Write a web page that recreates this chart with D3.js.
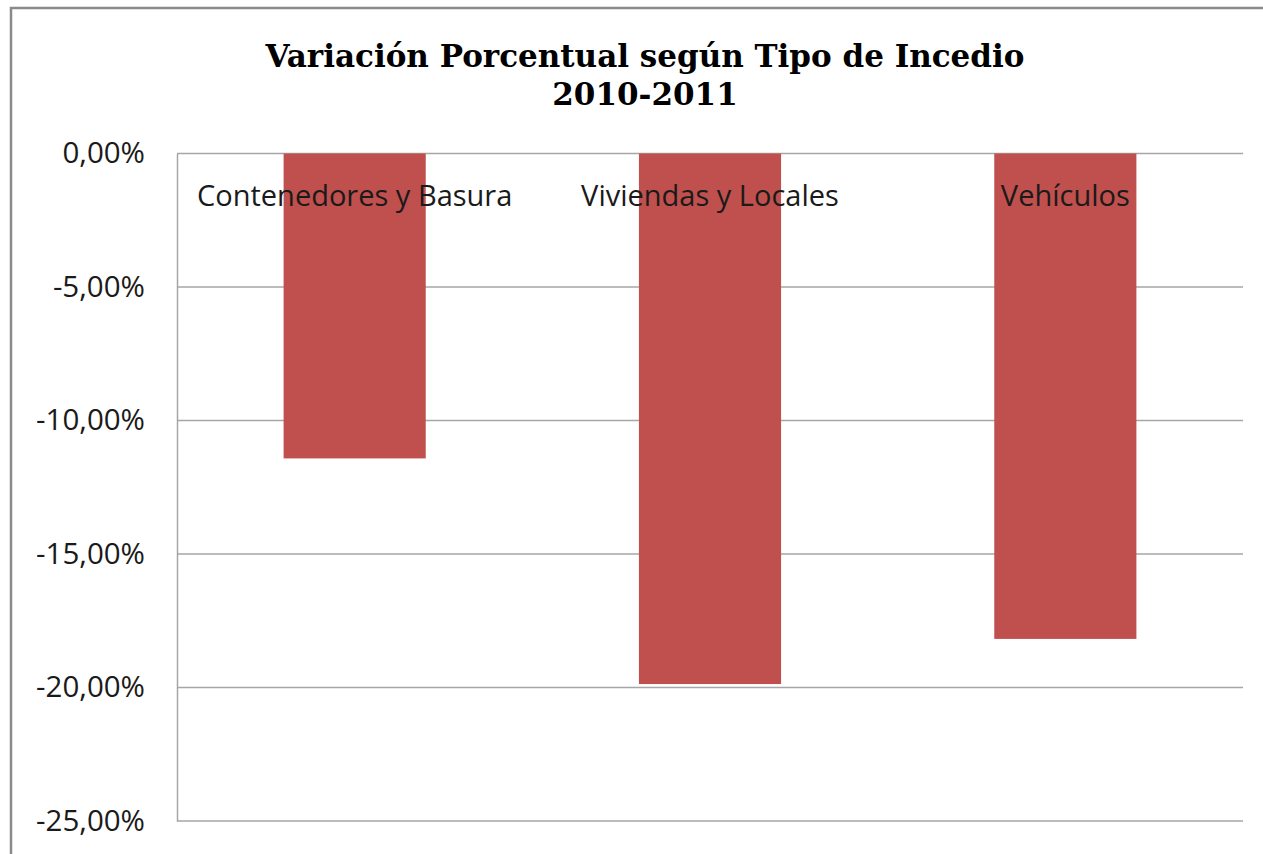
<!DOCTYPE html>
<html>
<head>
<meta charset="utf-8">
<script src="https://cdn.jsdelivr.net/npm/d3@7"></script>
<style>
  body { margin: 0; background: #fff; }
</style>
</head>
<body>
<div id="chart"></div>
<script>
const SVG_WIDTH = 1263;
const SVG_HEIGHT = 854;
const PLOT = { left: 177, right: 1243, top: 153.5, bottom: 821 };

const titleLines = ["Variación Porcentual según Tipo de Incedio", "2010-2011"];
const categories = ["Contenedores y Basura", "Viviendas y Locales", "Vehículos"];
const variation = [-0.1142, -0.1987, -0.1818];
const yTicks = [0, -0.05, -0.10, -0.15, -0.20, -0.25];

const esLocale = d3.formatLocale({
    decimal: ",",
    thousands: ".",
    grouping: [3],
    currency: ["", " €"],
    minus: "-"
});
const formatPct = esLocale.format(".2%");

const data = categories.map((c, i) => ({ category: c, value: variation[i] }));

const getScales = () => {
    const x = d3.scaleBand()
        .domain(categories)
        .range([PLOT.left, PLOT.right])
        .paddingInner(0.6)
        .paddingOuter(0.3);

    const y = d3.scaleLinear()
        .domain([-0.25, 0])
        .range([PLOT.bottom, PLOT.top]);

    return { x, y };
};

const appendFrame = (svg) => {
    svg.append("rect")
        .attr("x", 11)
        .attr("y", 8)
        .attr("width", SVG_WIDTH + 20)
        .attr("height", SVG_HEIGHT + 20)
        .attr("fill", "none")
        .attr("stroke", "#8a8a8a")
        .attr("stroke-width", 2.5);
};

const appendTitle = (svg) => {
    const title = svg.append("text")
        .attr("text-anchor", "middle")
        .attr("font-family", "'DejaVu Serif', 'Liberation Serif', serif")
        .attr("font-weight", "bold")
        .attr("font-size", 31)
        .attr("fill", "#000");

    title.selectAll("tspan")
        .data(titleLines)
        .join("tspan")
        .attr("x", 645)
        .attr("y", (d, i) => 67 + i * 38)
        .text(d => d);
};

const appendAxes = (svg, scales) => {
    // gridlines
    svg.append("g")
        .selectAll("line")
        .data(yTicks)
        .join("line")
        .attr("x1", PLOT.left)
        .attr("x2", PLOT.right)
        .attr("y1", d => scales.y(d))
        .attr("y2", d => scales.y(d))
        .attr("stroke", "#a6a6a6")
        .attr("stroke-width", 1.5);

    const yAxis = svg.append("g")
        .attr("transform", `translate(${PLOT.left},0)`)
        .call(d3.axisLeft(scales.y)
            .tickValues(yTicks)
            .tickFormat(formatPct)
            .tickSize(0)
            .tickPadding(32));

    yAxis.select(".domain")
        .attr("stroke", "#a6a6a6")
        .attr("stroke-width", 1.5);

    yAxis.selectAll("text")
        .attr("font-family", "'Open Sans', sans-serif")
        .attr("font-size", 29.5)
        .attr("fill", "#1a1a1a");
};

const appendData = (svg, scales) => {
    svg.append("g")
        .selectAll("rect")
        .data(data)
        .join("rect")
        .attr("x", d => scales.x(d.category))
        .attr("y", scales.y(0))
        .attr("width", scales.x.bandwidth())
        .attr("height", d => scales.y(d.value) - scales.y(0))
        .attr("fill", "#c0504d");
};

const appendLabels = (svg, scales) => {
    svg.append("g")
        .selectAll("text")
        .data(categories)
        .join("text")
        .attr("x", d => scales.x(d) + scales.x.bandwidth() / 2)
        .attr("y", 206)
        .attr("text-anchor", "middle")
        .attr("font-family", "'Open Sans', sans-serif")
        .attr("font-size", 29)
        .attr("fill", "#1a1a1a")
        .text(d => d);
};

const drawChart = (containerId) => {
    const container = d3.select("#" + containerId);
    container.html("");

    const svg = container.append("svg")
        .attr("width", SVG_WIDTH)
        .attr("height", SVG_HEIGHT);

    const scales = getScales();

    appendFrame(svg);
    appendTitle(svg);
    appendAxes(svg, scales);
    appendData(svg, scales);
    appendLabels(svg, scales);
};

drawChart("chart");
</script>
</body>
</html>
